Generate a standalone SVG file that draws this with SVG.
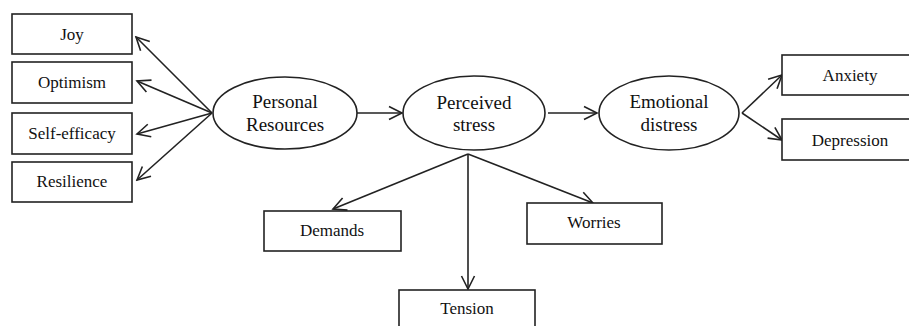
<svg xmlns="http://www.w3.org/2000/svg" width="909" height="326" viewBox="0 0 909 326">
<style>
.box{fill:#fff;stroke:#222;stroke-width:1.6}
.ell{fill:#fff;stroke:#222;stroke-width:1.6}
.t{font-family:"Liberation Serif","Times New Roman",serif;font-size:17px;fill:#111;text-anchor:middle}
.te{font-family:"Liberation Serif","Times New Roman",serif;font-size:19px;fill:#111;text-anchor:middle}
.c{fill:none;stroke:#222;stroke-width:1.6;marker-end:url(#ah)}
</style>
<defs>
<marker id="ah" markerUnits="userSpaceOnUse" markerWidth="16" markerHeight="16" viewBox="-14 -8 16 16" refX="0" refY="0" orient="auto">
<path d="M-13,-6.5 L0,0 L-13,6.5" fill="none" stroke="#222" stroke-width="1.6"/>
</marker>
</defs>
<rect width="909" height="326" fill="#fff"/>
<g id="connectors">
<line class="c" x1="212" y1="113" x2="136" y2="37"/>
<line class="c" x1="212" y1="113" x2="137" y2="81"/>
<line class="c" x1="212" y1="113" x2="137" y2="134"/>
<line class="c" x1="212" y1="113" x2="137" y2="180"/>
<line class="c" x1="357" y1="113" x2="402" y2="113"/>
<line class="c" x1="548" y1="113" x2="597" y2="113"/>
<line class="c" x1="742" y1="113" x2="782" y2="75"/>
<line class="c" x1="742" y1="113" x2="782" y2="140"/>
<line class="c" x1="468" y1="154" x2="333" y2="209"/>
<line class="c" x1="468" y1="154" x2="468" y2="289"/>
<line class="c" x1="468" y1="154" x2="593" y2="203"/>
</g>
<g id="joy"><rect class="box" x="12" y="14" width="120" height="40"/><text class="t" x="72" y="40">Joy</text></g>
<g id="optimism"><rect class="box" x="12" y="62" width="120" height="41"/><text class="t" x="72" y="88">Optimism</text></g>
<g id="selfefficacy"><rect class="box" x="12" y="113" width="120" height="41"/><text class="t" x="72" y="139">Self-efficacy</text></g>
<g id="resilience"><rect class="box" x="12" y="162" width="120" height="40"/><text class="t" x="72" y="187">Resilience</text></g>
<g id="personal"><ellipse class="ell" cx="285" cy="113" rx="72" ry="36"/><text class="te" x="285" y="108">Personal</text><text class="te" x="285" y="131">Resources</text></g>
<g id="perceived"><ellipse class="ell" cx="474" cy="113" rx="71" ry="37"/><text class="te" x="474" y="109">Perceived</text><text class="te" x="474" y="131">stress</text></g>
<g id="emotional"><ellipse class="ell" cx="669" cy="113" rx="70" ry="37"/><text class="te" x="669" y="108">Emotional</text><text class="te" x="669" y="131">distress</text></g>
<g id="anxiety"><rect class="box" x="782" y="55" width="136" height="40"/><text class="t" x="850" y="81">Anxiety</text></g>
<g id="depression"><rect class="box" x="782" y="119" width="136" height="41"/><text class="t" x="850" y="146">Depression</text></g>
<g id="demands"><rect class="box" x="264" y="211" width="137" height="40"/><text class="t" x="332" y="236">Demands</text></g>
<g id="worries"><rect class="box" x="527" y="203" width="135" height="41"/><text class="t" x="594" y="228">Worries</text></g>
<g id="tension"><rect class="box" x="399" y="290" width="136" height="50"/><text class="t" x="467" y="314">Tension</text></g>
</svg>
